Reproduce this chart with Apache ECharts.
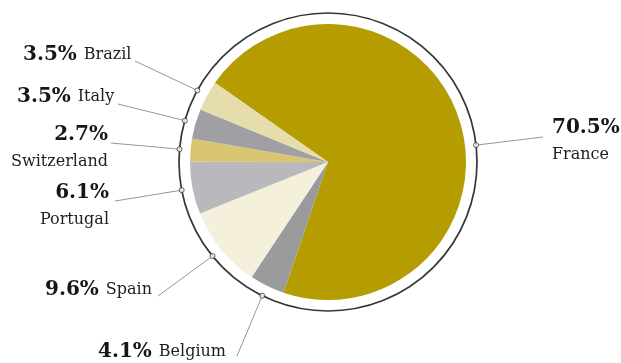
<!DOCTYPE html>
<html>
<head>
<meta charset="utf-8">
<script src="https://cdn.jsdelivr.net/npm/echarts@6/dist/echarts.min.js"></script>
<style>
  html, body { margin: 0; padding: 0; background: #fff; }
  #chart { width: 621px; height: 363px; }
</style>
</head>
<body>
<div id="chart"></div>
<script>
// Share by country, in percent (clockwise from the upper-left edge of France)
const countries = ['France', 'Belgium', 'Spain', 'Portugal', 'Switzerland', 'Italy', 'Brazil'];
const shares = [70.5, 4.1, 9.6, 6.1, 2.7, 3.5, 3.5];
const percentLabels = ['70.5%', '4.1%', '9.6%', '6.1%', '2.7%', '3.5%', '3.5%'];

const sliceColors = ['#b59c00', '#9b9b9e', '#f4f0dc', '#b9b9bd', '#d8c670', '#a0a0a4', '#e6ddac'];

// Geometry of the pie and its outer ring
const CENTER = [328, 162];
const PIE_R = 138;
const RING_R = 149;
const START_ANGLE = 145;

// Where each label sits, and where its leader line ends next to the text
const labelLayout = {
  France:      { x: 552, y: 141, align: 'left',  stacked: true,  end: [543, 137], anchor: 6.5 },
  Belgium:     { x: 98,  y: 352, align: 'left',  stacked: false, end: [237, 356] },
  Spain:       { x: 45,  y: 290, align: 'left',  stacked: false, end: [158, 296] },
  Portugal:    { x: 109, y: 206, align: 'right', stacked: true,  end: [115, 201] },
  Switzerland: { x: 108, y: 148, align: 'right', stacked: true,  end: [111, 143] },
  Italy:       { x: 17,  y: 97,  align: 'left',  stacked: false, end: [118, 104] },
  Brazil:      { x: 23,  y: 55,  align: 'left',  stacked: false, end: [135, 61] }
};

// Mid angle of each slice (degrees, counter-clockwise from east)
const total = shares.reduce((a, b) => a + b, 0);
const midAngles = [];
let acc = 0;
shares.forEach(v => {
  midAngles.push(START_ANGLE - 360 * (acc + v / 2) / total);
  acc += v;
});
const anchorAngles = countries.map((c, i) => {
  const a = labelLayout[c].anchor !== undefined ? labelLayout[c].anchor : midAngles[i];
  return ((a % 360) + 360) % 360;
});
function ringPoint(deg) {
  const r = deg * Math.PI / 180;
  return [CENTER[0] + RING_R * Math.cos(r), CENTER[1] - RING_R * Math.sin(r)];
}

const chart = echarts.init(document.getElementById('chart'));

chart.setOption({
  animation: false,
  backgroundColor: '#ffffff',
  polar: { center: CENTER, radius: RING_R },
  angleAxis: {
    type: 'value', min: 0, max: 360, startAngle: 0, clockwise: false,
    axisLine: { show: true, lineStyle: { color: '#363636', width: 1.7 } },
    axisTick: { show: false }, axisLabel: { show: false }, splitLine: { show: false }
  },
  radiusAxis: { type: 'value', min: 0, max: 1, show: false },
  series: [
    {
      type: 'pie',
      center: CENTER,
      radius: [0, PIE_R],
      startAngle: START_ANGLE,
      clockwise: true,
      avoidLabelOverlap: false,
      silent: true,
      z: 2,
      data: countries.map((c, i) => ({
        name: c,
        value: shares[i],
        itemStyle: { color: sliceColors[i] }
      })),
      label: {
        show: true,
        formatter: p => {
          const lay = labelLayout[p.name];
          return '{p|' + percentLabels[p.dataIndex] + '}' + (lay.stacked ? '\n{n|' : '{g|' ) + p.name + '}';
        },
        rich: {
          p: { fontFamily: 'DejaVu Serif', fontWeight: 'bold', fontSize: 20, color: '#161616', lineHeight: 27 },
          n: { fontFamily: 'DejaVu Serif', fontSize: 16, color: '#1e1e1e', lineHeight: 27 },
          g: { fontFamily: 'DejaVu Serif', fontSize: 16, color: '#1e1e1e', lineHeight: 27, padding: [0, 0, 0, 7] }
        }
      },
      labelLine: { show: true, lineStyle: { color: '#8a8a8a', width: 0.9 } },
      labelLayout: params => {
        const name = countries[params.dataIndex];
        const lay = labelLayout[name];
        const start = ringPoint(anchorAngles[params.dataIndex]);
        const end = lay.end;
        return {
          x: lay.x,
          y: lay.y,
          align: lay.align,
          verticalAlign: 'middle',
          labelLinePoints: [start, [(start[0] + end[0]) / 2, (start[1] + end[1]) / 2], end]
        };
      }
    },
    {
      type: 'scatter',
      coordinateSystem: 'polar',
      symbol: 'circle',
      symbolSize: 5,
      silent: true,
      z: 5,
      itemStyle: { color: '#ffffff', borderColor: '#363636', borderWidth: 1 },
      data: anchorAngles.map(a => [1, a])
    }
  ]
});
</script>
</body>
</html>
